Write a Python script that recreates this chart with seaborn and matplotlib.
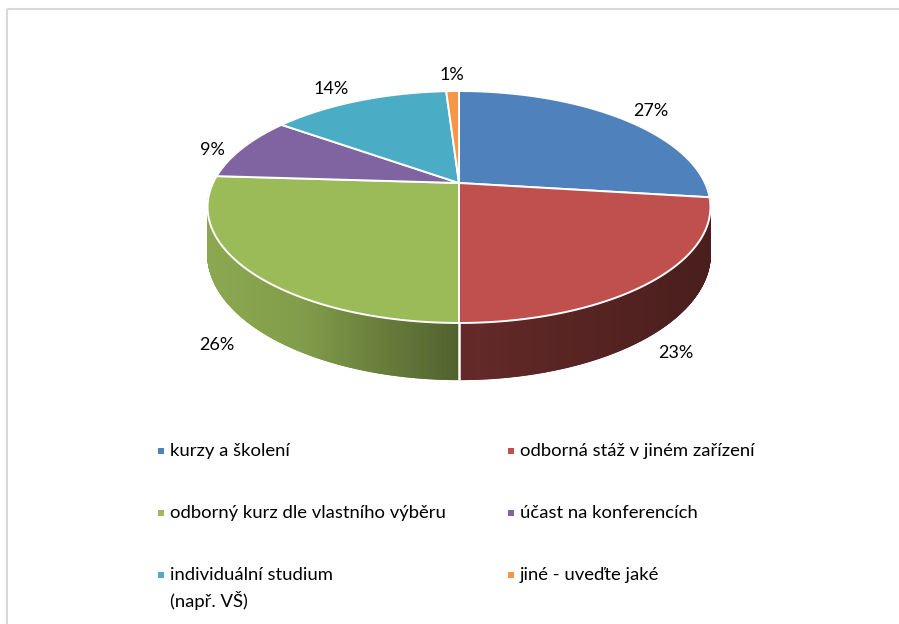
import numpy as np
import matplotlib
matplotlib.use("Agg")
import matplotlib.pyplot as plt
from matplotlib.patches import Polygon, Rectangle
from matplotlib.collections import PolyCollection
from matplotlib.colors import to_rgb
import seaborn as sns

# ---- data -------------------------------------------------------------
categories = [
    "kurzy a školení",
    "odborná stáž v jiném zařízení",
    "odborný kurz dle vlastního výběru",
    "účast na konferencích",
    "individuální studium\n(např. VŠ)",
    "jiné - uveďte jaké",
]
shares = [27, 23, 26, 9, 14, 1]
percent_labels = [f"{v}%" for v in shares]
palette = sns.color_palette(["#4F81BD", "#C0504D", "#9BBB59", "#8064A2", "#4BACC6", "#F79646"])

# ---- style ------------------------------------------------------------
sns.set_theme(style="white")
plt.rcParams["font.family"] = ["Lato", "DejaVu Sans"]
FS_LABEL = 13
FS_LEGEND = 13.3

W, H = 899, 624
fig = plt.figure(figsize=(W / 100, H / 100), dpi=100)
ax = fig.add_axes([0, 0, 1, 1])
ax.set_xlim(0, W)
ax.set_ylim(H, 0)
ax.axis("off")

# chart frame
ax.add_patch(Rectangle((7, 9), 950, 700, fill=False, edgecolor="#d9d9d9", lw=1.5))

# ---- 3D pie geometry (perspective view of a tilted disc) ---------------
cx, cy = 459, 183          # projected centre of the top face
A, K, P = 246, 111, 0.207  # horizontal radius, vertical radius, perspective
DEPTH = 45                 # thickness of the disc


def proj(theta, r=1.0, drop=0.0):
    X = r * np.sin(theta)
    Z = r * np.cos(theta)
    d = 1 + P * Z
    return cx + A * X / d, cy + (-K * Z + drop) / d


def side_shade(x):
    return np.interp(x, [207, 300, 459, 711], [0.90, 0.84, 0.52, 0.38])


fracs = np.array(shares, dtype=float) / np.sum(shares)
edges = np.concatenate([[0.0], np.cumsum(fracs)]) * 2 * np.pi

# side wall: strips on the front half, painted back to front
polys, cols = [], []
for half in (np.linspace(np.pi / 2, np.pi, 500), np.linspace(1.5 * np.pi, np.pi, 500)):
    for t0, t1 in zip(half[:-1], half[1:]):
        tm = 0.5 * (t0 + t1)
        idx = int(np.searchsorted(edges, tm) - 1)
        idx = min(max(idx, 0), len(shares) - 1)
        xa, ya = proj(t0)
        xb, yb = proj(t1)
        xc, yc = proj(t1, drop=DEPTH)
        xd, yd = proj(t0, drop=DEPTH)
        polys.append([(xa, ya), (xb, yb), (xc, yc), (xd, yd)])
        s = side_shade(0.5 * (xa + xb))
        cols.append(tuple(np.clip(np.array(to_rgb(palette[idx])) * s, 0, 1)))
ax.add_collection(PolyCollection(polys, facecolors=cols, edgecolors=cols, linewidths=0.6))

# white seams on the side wall at slice boundaries that face the viewer
for e in edges:
    if np.pi / 2 + 0.2 < e < 1.5 * np.pi - 0.2:
        x0, y0 = proj(e)
        x1, y1 = proj(e, drop=DEPTH)
        ax.plot([x0, x1], [y0, y1], color="white", lw=1.8, solid_capstyle="butt")

# top faces
for i in range(len(shares)):
    th = np.linspace(edges[i], edges[i + 1], max(4, int(400 * fracs[i])))
    xs, ys = proj(th)
    pts = [(cx, cy)] + list(zip(xs, ys))
    ax.add_patch(Polygon(pts, closed=True, facecolor=palette[i], edgecolor="white",
                         lw=1.4, joinstyle="miter"))

# percentage labels placed around the rim
label_offsets = [(8, 1), (-11, -1), (4, 4), (0, 7), (-15, -1), (0, -5)]
for i, lab in enumerate(percent_labels):
    tm = 0.5 * (edges[i] + edges[i + 1])
    lx, ly = proj(tm, r=1.15)
    if np.cos(tm) < 0:
        ly += DEPTH / (1 + P * 1.15 * np.cos(tm))
    dx, dy = label_offsets[i]
    ax.text(lx + dx, ly + dy, lab, fontsize=FS_LABEL, color="black", ha="center", va="center")

# ---- legend (two columns, three rows) --------------------------------
col_x = [161, 511]
row_y = [451, 513, 575]
for i, name in enumerate(categories):
    mx, my = col_x[i % 2], row_y[i // 2]
    ax.add_patch(Rectangle((mx - 3, my - 3), 6, 6, facecolor=palette[i], edgecolor="none"))
    for j, line in enumerate(name.split("\n")):
        ax.text(mx + 9, my + 25 * j, line, fontsize=FS_LEGEND, color="black", ha="left", va="center")

fig.savefig("out.png", dpi=100, facecolor="white")
